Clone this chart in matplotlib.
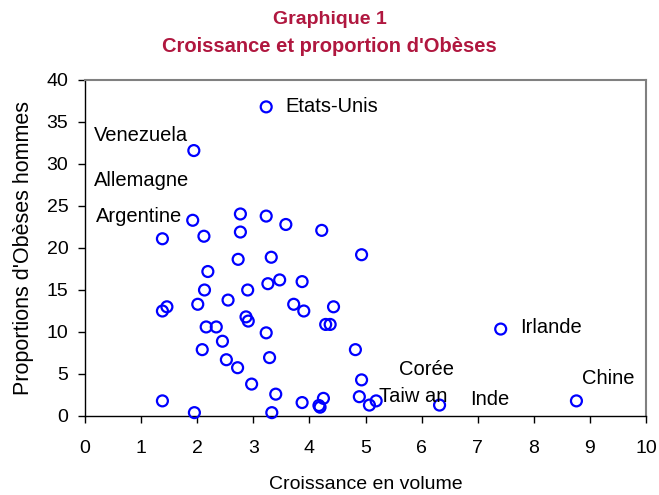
import matplotlib.pyplot as plt

# croissance en volume (x) et proportion d'obeses hommes (y)
croissance = [3.23, 1.94, 1.92, 2.77, 3.23, 3.58, 4.22, 1.38, 2.12, 2.77,
              2.73, 3.32, 4.93, 2.19, 2.13, 2.90, 3.26, 3.47, 3.87, 2.01,
              2.55, 3.72, 3.90, 4.43, 1.38, 1.46, 2.87, 2.91, 2.16, 2.34,
              4.29, 4.37, 3.23, 2.45, 2.09, 4.82, 3.29, 2.52, 2.72, 2.97,
              4.93, 1.38, 1.95, 3.33, 3.40, 3.87, 4.25, 4.17, 4.19, 4.89,
              5.07, 5.19, 6.32, 7.41, 8.76]
obeses = [36.8, 31.6, 23.3, 24.05, 23.8, 22.8, 22.1, 21.1, 21.4, 21.9,
          18.65, 18.9, 19.2, 17.2, 15.0, 15.0, 15.75, 16.2, 16.0, 13.3,
          13.8, 13.3, 12.5, 13.0, 12.5, 13.0, 11.8, 11.3, 10.6, 10.6,
          10.9, 10.9, 9.9, 8.9, 7.9, 7.9, 6.95, 6.7, 5.75, 3.8,
          4.3, 1.8, 0.4, 0.4, 2.6, 1.6, 2.1, 1.25, 1.05, 2.3,
          1.3, 1.8, 1.3, 10.35, 1.8]

# noms de pays (texte place a la main comme dans l'original)
pays = ["Etats-Unis", "Venezuela", "Allemagne", "Argentine", "Irlande",
        "Corée", "Taiw an", "Inde", "Chine"]
pays_xy = [(3.57, 36.9), (0.16, 33.45), (0.16, 28.0), (0.2, 23.8), (7.76, 10.5),
           (5.6, 5.5), (5.24, 2.3), (6.87, 2.0), (8.86, 4.5)]

plt.rcParams['font.family'] = ['Liberation Sans', 'DejaVu Sans']

fig = plt.figure(figsize=(6.59, 4.95), dpi=100)
ax = fig.add_axes([85/659, 1-416/495, (646-85)/659, (416-80)/495])

ax.scatter(croissance, obeses, s=62, facecolors='none', edgecolors='#0000FF',
           linewidths=1.6, zorder=3, clip_on=False)

for nom, (tx, ty) in zip(pays, pays_xy):
    ax.text(tx, ty, nom, fontsize=14.5, va='center', ha='left', color='black')

ax.set_xlim(0, 10)
ax.set_ylim(0, 40)
ax.set_xticks(range(0, 11))
ax.set_yticks(range(0, 41, 5))
ax.tick_params(direction='out', length=5, width=1, labelsize=14)
ax.tick_params(axis='x', pad=12)
ax.tick_params(axis='y', pad=7)

for s in ['top', 'right']:
    ax.spines[s].set_color('#808080')
    ax.spines[s].set_linewidth(1.5)
for s in ['left', 'bottom']:
    ax.spines[s].set_color('black')
    ax.spines[s].set_linewidth(1)

ax.set_xlabel("Croissance en volume", fontsize=14, labelpad=14)
ax.set_ylabel("Proportions d'Obèses hommes", fontsize=15.5, labelpad=9)

fig.text(0.5, 1-19/495, "Graphique 1", ha='center', va='center',
         fontsize=14, fontweight='bold', color='#B0173F')
fig.text(0.5, 1-47/495, "Croissance et proportion d'Obèses", ha='center', va='center',
         fontsize=14.5, fontweight='bold', color='#B0173F')

fig.savefig("out.png", dpi=100, facecolor='white')
